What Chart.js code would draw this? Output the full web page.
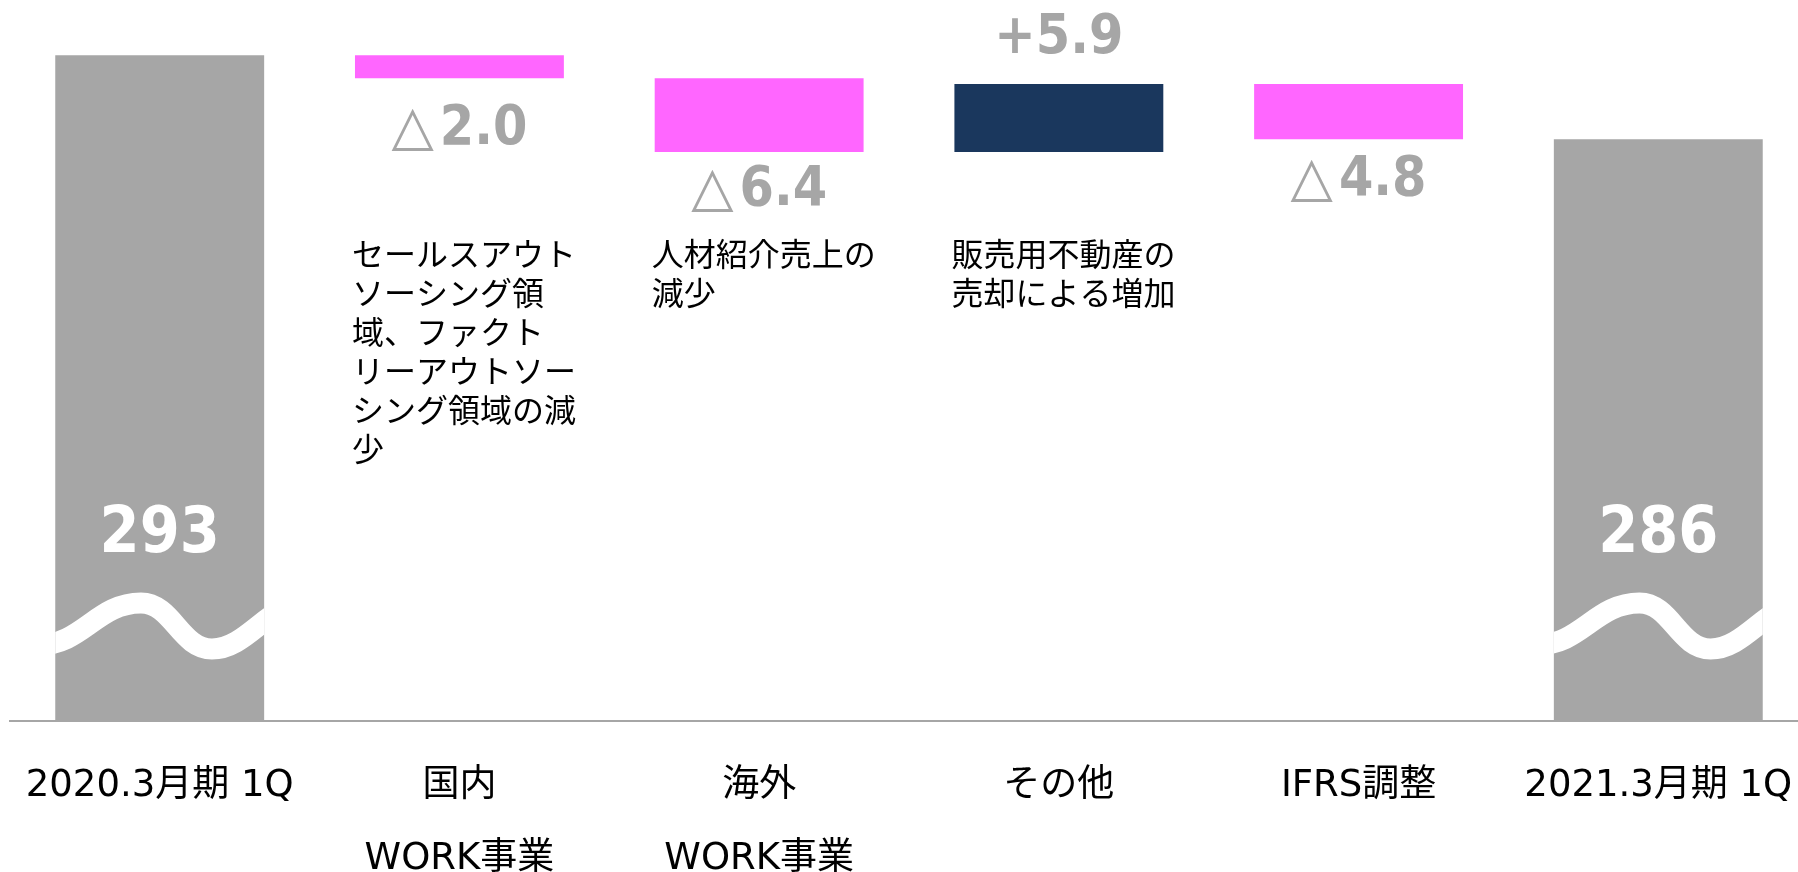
<!DOCTYPE html>
<html>
<head>
<meta charset="utf-8">
<script src="https://cdn.jsdelivr.net/npm/chart.js@4.4.1/dist/chart.umd.min.js"></script>
<style>
  html, body { margin: 0; padding: 0; background: #fff; overflow: hidden; }
  #wrap { width: 1798px; height: 872px; overflow: hidden; position: relative; }
  #chart { display: block; position: absolute; left: -3px; top: 0; }
</style>
</head>
<body>
<div id="wrap"><canvas id="chart" width="1824" height="925"></canvas></div>
<script>
const categories = [
  "2020.3月期 1Q",
  ["国内", "WORK事業"],
  ["海外", "WORK事業"],
  "その他",
  "IFRS調整",
  "2021.3月期 1Q"
];
const startValue = 293;
const changes = [-2.0, -6.4, 5.9, -4.8];
const endValue = 285.7;
const notes = [
  [],
  ["セールスアウト", "ソーシング領", "域、ファクト", "リーアウトソー", "シング領域の減", "少"],
  ["人材紹介売上の", "減少"],
  ["販売用不動産の", "売却による増加"],
  [],
  []
];

// axis is broken (wave marks), so the range only covers the top part
const yMin = 235.2;
const yMax = 297.8;

/* ===== floating bars for the waterfall ===== */
const bars = [[yMin, startValue]];
const colors = ["#a6a6a6"];
let run = startValue;
changes.forEach(d => {
  bars.push([Math.min(run, run + d), Math.max(run, run + d)]);
  colors.push(d < 0 ? "#ff66ff" : "#1a375d");
  run += d;
});
bars.push([yMin, endValue]);
colors.push("#a6a6a6");

const NUM_FONT = "'DejaVu Sans Condensed', 'DejaVu Sans', sans-serif";
const JP_FONT = "'Noto Sans CJK JP', sans-serif";
const TICK_FONT = "'DejaVu Sans', 'Noto Sans CJK JP', sans-serif";

const decor = {
  id: "decor",
  afterDatasetsDraw(chart) {
    const ctx = chart.ctx;
    const els = chart.getDatasetMeta(0).data;
    const bottom = chart.chartArea.bottom;
    const top0 = chart.chartArea.top;
    ctx.save();

    // totals: wave break + value
    [0, els.length - 1].forEach(i => {
      const b = els[i];
      const w = b.width, left = b.x - w / 2;
      const top = Math.min(b.y, b.base);
      ctx.save();
      ctx.beginPath();
      ctx.rect(left, top, w, bottom - top);
      ctx.clip();
      const X = f => left + f * w;
      const Y = o => bottom + o;
      ctx.beginPath();
      ctx.moveTo(X(-0.08), Y(-76));
      ctx.bezierCurveTo(X(0.13), Y(-76), X(0.2), Y(-118), X(0.41), Y(-118));
      ctx.bezierCurveTo(X(0.56), Y(-118), X(0.6), Y(-72), X(0.75), Y(-72));
      ctx.bezierCurveTo(X(0.92), Y(-72), X(1.02), Y(-118), X(1.2), Y(-118));
      ctx.strokeStyle = "#ffffff";
      ctx.lineWidth = 21;
      ctx.stroke();
      ctx.restore();

      const v = i === 0 ? startValue : endValue;
      ctx.font = "bold 64px " + NUM_FONT;
      ctx.fillStyle = "#ffffff";
      ctx.textAlign = "center";
      ctx.textBaseline = "alphabetic";
      ctx.fillText(String(Math.round(v)), b.x, bottom - 169);
    });

    // change labels
    const gap = { 1: 66, 2: 53, 3: 31, 4: 56 };
    changes.forEach((d, k) => {
      const i = k + 1;
      const b = els[i];
      const top = Math.min(b.y, b.base), bot = Math.max(b.y, b.base);
      const num = Math.abs(d).toFixed(1);
      ctx.textAlign = "left";
      ctx.textBaseline = "alphabetic";
      ctx.fillStyle = "#a6a6a6";
      if (d < 0) {
        ctx.font = "55px 'DejaVu Sans', sans-serif";
        const tw = ctx.measureText("△").width;
        ctx.font = "bold 55px " + NUM_FONT;
        const nw = ctx.measureText(num).width;
        const x0 = b.x - (tw + 6 + nw) / 2;
        const y = bot + gap[i];
        ctx.font = "55px 'DejaVu Sans', sans-serif";
        ctx.fillText("△", x0, y);
        ctx.font = "bold 55px " + NUM_FONT;
        ctx.fillText(num, x0 + tw + 6, y);
      } else {
        ctx.font = "bold 55px " + NUM_FONT;
        ctx.textAlign = "center";
        ctx.fillText("+" + num, b.x, top - gap[i]);
      }
    });

    // notes under the change bars
    ctx.font = "32px " + JP_FONT;
    ctx.fillStyle = "#000000";
    ctx.textAlign = "left";
    ctx.textBaseline = "middle";
    notes.forEach((lines, i) => {
      const b = els[i];
      const left = b.x - b.width / 2 - 3;
      lines.forEach((t, n) => ctx.fillText(t, left, top0 + 254 + n * 39));
    });
    ctx.restore();
  }
};

new Chart(document.getElementById("chart"), {
  type: "bar",
  data: {
    labels: categories,
    datasets: [{
      data: bars,
      backgroundColor: colors,
      borderWidth: 0,
      barPercentage: 0.697,
      categoryPercentage: 1
    }]
  },
  options: {
    responsive: false,
    animation: false,
    devicePixelRatio: 1,
    layout: { padding: { left: 10, right: 0, top: 0, bottom: 0 } },
    plugins: { legend: { display: false }, tooltip: { enabled: false } },
    scales: {
      x: {
        grid: { display: false, drawTicks: false },
        border: { display: true, color: "#a6a6a6", width: 2 },
        ticks: {
          color: "#000000",
          font: { family: TICK_FONT, size: 37, lineHeight: 1.973 },
          padding: 29,
          maxRotation: 0,
          autoSkip: false
        }
      },
      y: { display: false, min: yMin, max: yMax }
    }
  },
  plugins: [decor]
});
</script>
</body>
</html>
